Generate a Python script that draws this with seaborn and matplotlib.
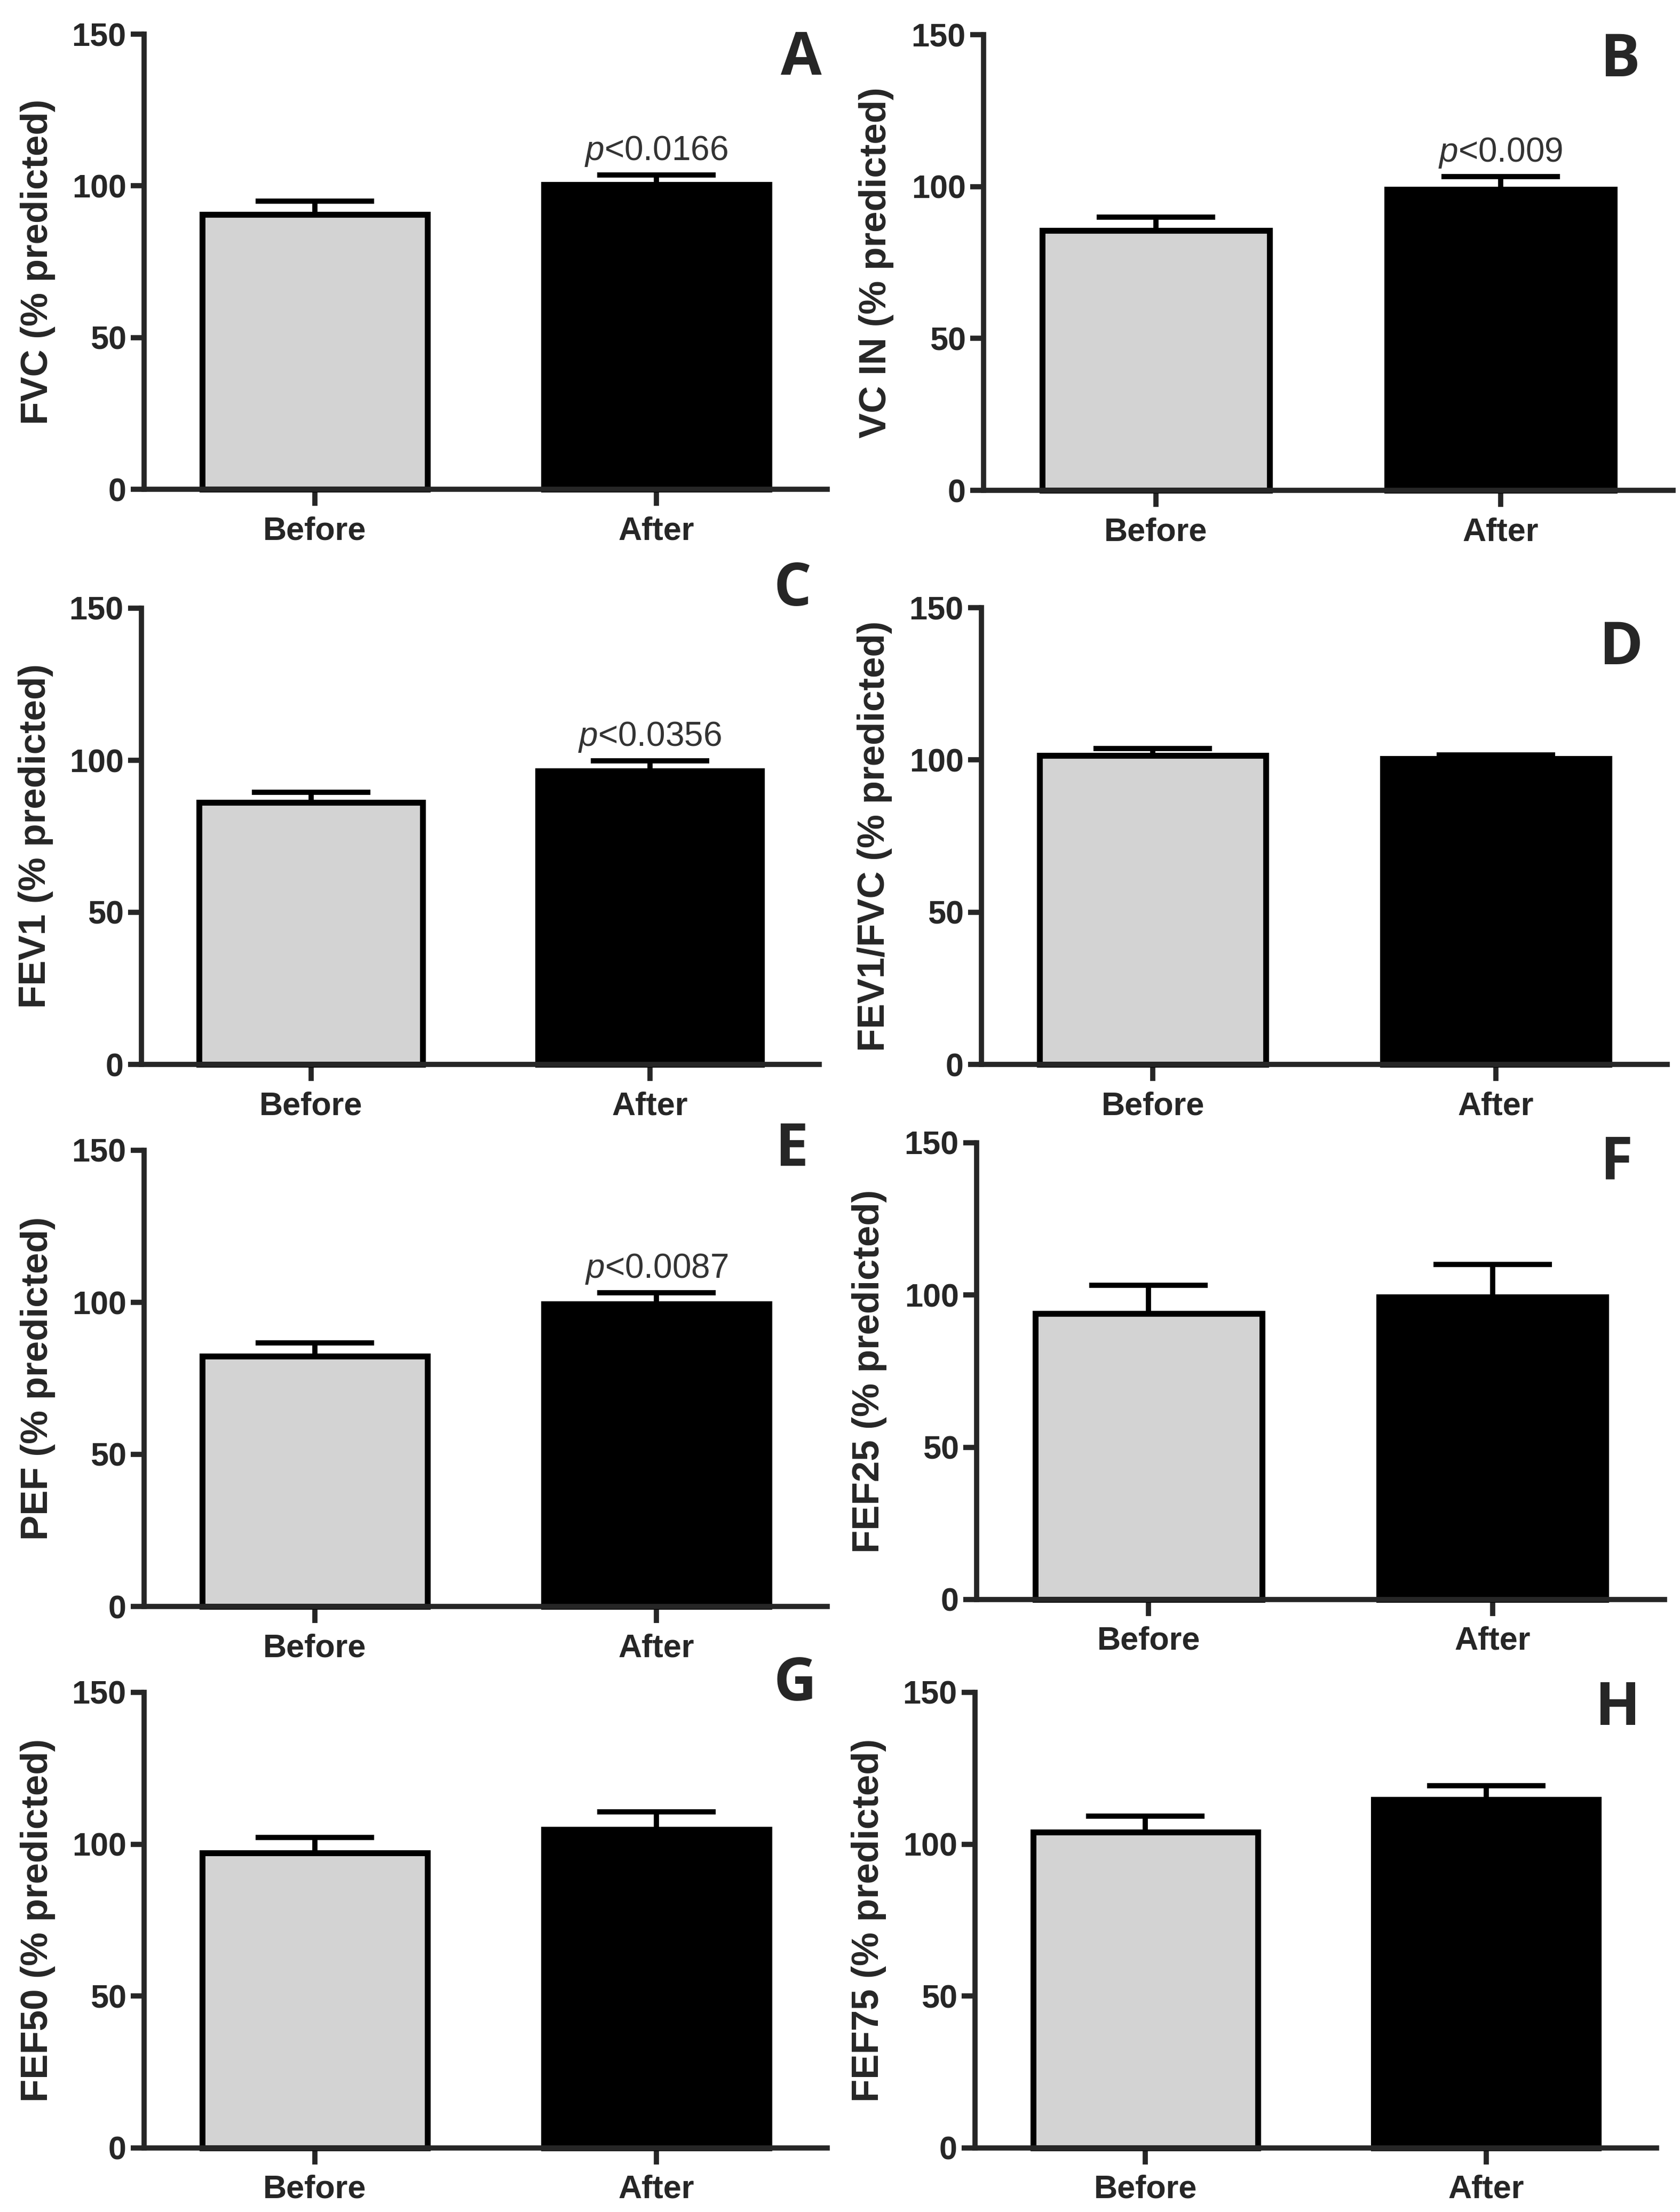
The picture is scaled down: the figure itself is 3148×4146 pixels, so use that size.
import numpy as np
import pandas as pd
import matplotlib
matplotlib.use("Agg")
import matplotlib.pyplot as plt
import seaborn as sns

# values (mean and upper SEM, % predicted)
panels = ["A", "B", "C", "D", "E", "F", "G", "H"]
ylabels = ["FVC (% predicted)", "VC IN (% predicted)", "FEV1 (% predicted)",
           "FEV1/FVC (% predicted)", "PEF (% predicted)", "FEF25 (% predicted)",
           "FEF50 (% predicted)", "FEF75 (% predicted)"]
groups = ["Before", "After"]
before = [90.6, 85.5, 86.1, 101.4, 82.2, 94.0, 97.2, 103.9]
before_sem = [4.3, 4.5, 3.3, 2.3, 4.4, 9.2, 5.0, 5.3]
after = [100.4, 99.1, 96.5, 100.4, 99.5, 99.3, 104.8, 114.7]
after_sem = [3.1, 4.1, 3.3, 1.2, 3.6, 10.8, 5.9, 4.5]
pvals = ["0.0166", "0.009", "0.0356", None, "0.0087", None, None, None]

W, H = 3148, 4146
# axes boxes in pixels: y-axis x, x-axis right end, y of 150, y of 0
boxes = [(270, 1550, 64, 917), (1843, 3135, 65, 919),
         (265, 1535, 1140, 1995), (1839, 3124, 1139, 1995),
         (270, 1550, 2156, 3011), (1830, 3119, 2142, 2998),
         (270, 1550, 3172, 4026), (1827, 3104, 3172, 4026)]
# panel letter anchor (right edge, top) in pixels
letter_pos = [(1540, 55), (3074, 58), (1520, 1050), (3079, 1160),
              (1515, 2100), (3060, 2125), (1530, 3102), (3074, 3148)]

sns.set_style("ticks")
plt.rcParams['font.family'] = ['Liberation Sans', 'DejaVu Sans']
plt.rcParams['mathtext.fontset'] = 'custom'
plt.rcParams['mathtext.it'] = 'Liberation Sans:italic'
plt.rcParams['mathtext.rm'] = 'Liberation Sans'

fig = plt.figure(figsize=(W / 100, H / 100), dpi=100)

for i in range(8):
    x0, x1, y150, y0 = boxes[i]
    ax = fig.add_axes([x0 / W, 1 - y0 / H, (x1 - x0) / W, (y0 - y150) / H])
    df = pd.DataFrame({"group": groups, "value": [before[i], after[i]]})
    sns.barplot(data=df, x="group", y="value", hue="group",
                palette=["#d3d3d3", "black"], legend=False, errorbar=None,
                edgecolor="black", linewidth=8, width=0.66, ax=ax,
                clip_on=False, zorder=2)
    ax.errorbar([0, 1], [before[i], after[i]],
                yerr=[[0, 0], [before_sem[i], after_sem[i]]],
                fmt="none", ecolor="black", elinewidth=7, capsize=80,
                capthick=7, zorder=1, clip_on=False)
    if pvals[i]:
        ax.text(1, after[i] + after_sem[i] + 2.3, r"$\it{p}$<" + pvals[i],
                ha="center", va="bottom", fontsize=46, color="#333333")

    ax.set_xlim(-0.5, 1.5)
    ax.set_ylim(0, 150)
    ax.set_yticks([0, 50, 100, 150])
    ax.set_xlabel("")
    ax.set_ylabel(ylabels[i], fontsize=51, fontweight="bold")
    ax.yaxis.set_label_coords(-0.13, 0.5)
    sns.despine(ax=ax)
    for s in ["left", "bottom"]:
        ax.spines[s].set_linewidth(7)
    ax.tick_params(axis="y", length=18, width=7, pad=6, labelsize=44)
    ax.tick_params(axis="x", length=22, width=7, pad=14, labelsize=44)
    for lab in ax.get_xticklabels() + ax.get_yticklabels():
        lab.set_fontweight("bold")

    lx, ly = letter_pos[i]
    fig.text(lx / W, 1 - ly / H, panels[i], ha="right", va="top",
             fontsize=80, fontweight="bold", family=["Open Sans", "DejaVu Sans"])

fig.savefig("out.png", dpi=100)
